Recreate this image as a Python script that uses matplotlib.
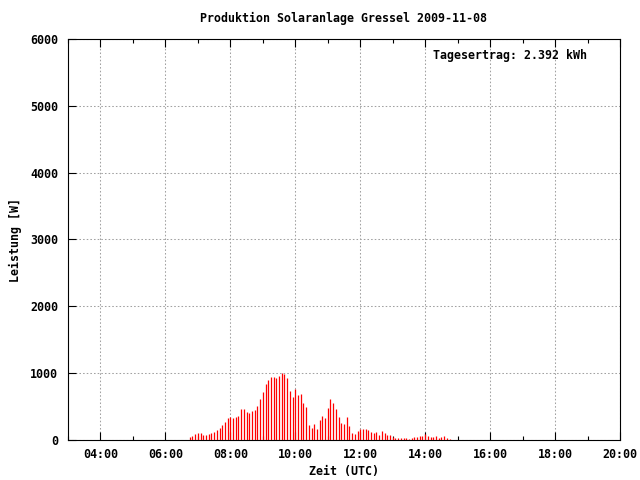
import matplotlib
matplotlib.use('Agg')
import matplotlib.pyplot as plt
import numpy as np

# power readings [W], 5 minute steps from 06:45 to 14:45 UTC
startHour = 6.75
stepHours = 5 / 60
leistung = [45, 60, 90, 105, 105, 75, 75, 90, 105, 120,
            150, 180, 225, 270, 330, 345, 330, 345, 360, 465,
            465, 420, 405, 435, 450, 510, 615, 720, 840, 900,
            945, 945, 930, 960, 1005, 990, 930, 735, 645, 765,
            675, 690, 555, 495, 225, 180, 240, 165, 300, 360,
            330, 480, 615, 555, 465, 345, 255, 240, 345, 210,
            105, 90, 135, 165, 165, 165, 150, 120, 105, 120,
            75, 135, 105, 75, 75, 45, 30, 30, 30, 30,
            30, 15, 30, 45, 45, 60, 60, 90, 60, 45,
            45, 60, 30, 45, 60, 30, 15]
zeit = startHour + stepHours * np.arange(len(leistung))

xTicks = [4, 6, 8, 10, 12, 14, 16, 18, 20]
xTickLabels = ['04:00', '06:00', '08:00', '10:00', '12:00', '14:00', '16:00', '18:00', '20:00']
yTicks = [0, 1000, 2000, 3000, 4000, 5000, 6000]

titleText = 'Produktion Solaranlage Gressel 2009-11-08'
ertragText = 'Tagesertrag: 2.392 kWh'

plt.rcParams['font.family'] = 'DejaVu Sans Mono'
plt.rcParams['font.weight'] = 'bold'
fs = 8.4

figureWidth = 6.4
figureHeight = 4.8
fig = plt.figure(figsize=(figureWidth, figureHeight), dpi=100)

# panel in pixels: left 68, right 620, top 39, bottom 440
panel = plt.axes([68 / 640, 40 / 480, 552 / 640, 401 / 480])

panel.vlines(zeit, 0, leistung, color=(1, 0, 0), linewidth=0.9, zorder=3)

panel.set_xlim(3, 20)
panel.set_ylim(0, 6000)
panel.set_xticks(xTicks)
panel.set_xticklabels(xTickLabels, fontsize=fs, fontweight='bold')
panel.set_xticks(np.arange(3, 21, 1), minor=True)
panel.set_yticks(yTicks)
panel.set_yticklabels([str(v) for v in yTicks], fontsize=fs, fontweight='bold')

panel.tick_params(axis='x', which='major', direction='in', length=6, width=0.8,
                  top=True, bottom=True, pad=6)
panel.tick_params(axis='x', which='minor', direction='in', length=3, width=0.8,
                  top=True, bottom=True)
panel.tick_params(axis='y', which='major', direction='in', length=6, width=0.8,
                  left=True, right=False, pad=7)
panel.tick_params(axis='y', which='minor', left=False, right=False)

panel.grid(True, which='major', color=(0.63, 0.63, 0.63), linestyle=(0, (1.5, 2)),
           linewidth=0.75, zorder=0)
panel.set_axisbelow(True)

for s in panel.spines.values():
    s.set_linewidth(0.8)
    s.set_color('black')

panel.set_xlabel('Zeit (UTC)', fontsize=fs, fontweight='bold', labelpad=3)
panel.set_ylabel('Leistung [W]', fontsize=fs, fontweight='bold', labelpad=6)

fig.text(344 / 640, 1 - 18 / 480, titleText, fontsize=fs, fontweight='bold',
         ha='center', va='center')
panel.text(0.94, 0.958, ertragText, transform=panel.transAxes, fontsize=fs,
           fontweight='bold', ha='right', va='center')

plt.savefig('out.png', dpi=100)
